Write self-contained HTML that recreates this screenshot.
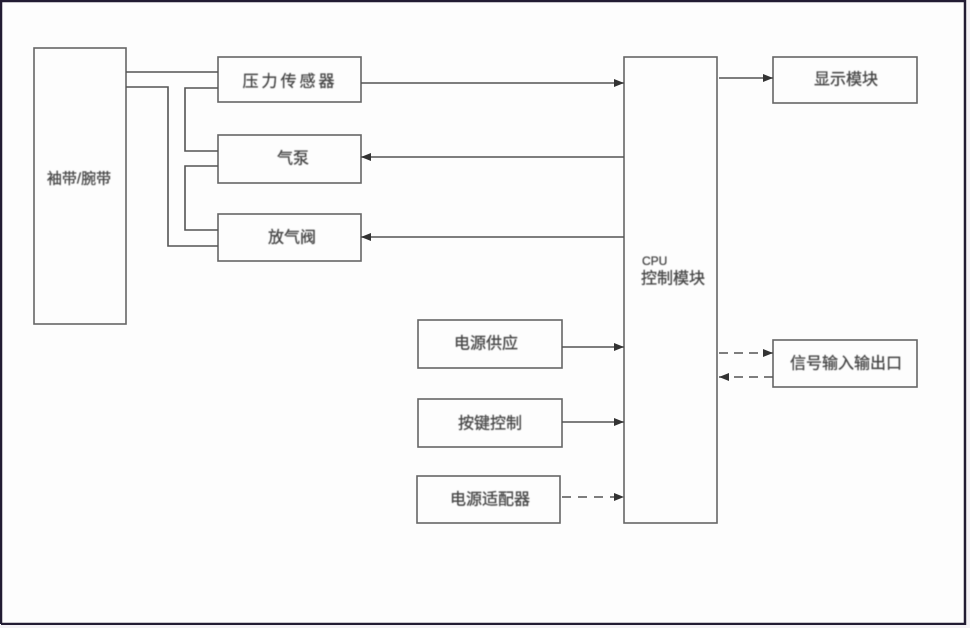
<!DOCTYPE html>
<html>
<head>
<meta charset="utf-8">
<style>
  html, body { margin: 0; padding: 0; background: #fff; }
  body { width: 970px; height: 628px; overflow: hidden; }
  svg { display: block; }
  text { font-family: "Liberation Sans", "Noto Sans CJK SC", "WenQuanYi Zen Hei", sans-serif; fill: #444; stroke: #555; stroke-width: 0.35; }
</style>
</head>
<body>
<svg width="970" height="628" viewBox="0 0 970 628" xmlns="http://www.w3.org/2000/svg">
  <defs>
    <marker id="ah" markerUnits="userSpaceOnUse" markerWidth="10" markerHeight="8" refX="10" refY="4" orient="auto">
      <path d="M0,0 L10,4 L0,8 z" fill="#333"/>
    </marker>
    <filter id="soft" x="-5%" y="-5%" width="110%" height="110%">
      <feGaussianBlur stdDeviation="0.45"/>
    </filter>
  </defs>

  <!-- background -->
  <rect x="0" y="0" width="970" height="628" fill="#fdfdfd"/>
  <!-- outer frame -->
  <path d="M1,624 V1 H965 V624 H1" fill="none" stroke="#221c33" stroke-width="2.5"/>
  <rect x="967" y="0" width="3" height="628" fill="#f4f2f6"/>
  <rect x="0" y="625" width="970" height="3" fill="#f4f2f6"/>

  <g fill="none" stroke="#666" stroke-width="1.6">
    <!-- boxes -->
    <rect x="34" y="48" width="92" height="276"/>
    <rect x="218" y="57" width="143" height="45"/>
    <rect x="218" y="135" width="143" height="48"/>
    <rect x="218" y="214" width="143" height="47"/>
    <rect x="624" y="57" width="93" height="466"/>
    <rect x="773" y="57" width="144" height="46"/>
    <rect x="773" y="340" width="144" height="47"/>
    <rect x="418" y="320" width="144" height="48"/>
    <rect x="418" y="399" width="144" height="48"/>
    <rect x="417" y="476" width="143" height="47"/>
  </g>

  <g fill="none" stroke="#555" stroke-width="1.6">
    <!-- cuff connectors -->
    <path d="M126,72 H218"/>
    <path d="M126,87 H168 V246 H218"/>
    <path d="M218,88 H185 V151 H218"/>
    <path d="M218,166 H185 V230 H218"/>

    <!-- solid arrows -->
    <path d="M361,83 H624" marker-end="url(#ah)"/>
    <path d="M624,157 H361" marker-end="url(#ah)"/>
    <path d="M624,237 H361" marker-end="url(#ah)"/>
    <path d="M719,78 H773" marker-end="url(#ah)"/>
    <path d="M562,347 H624" marker-end="url(#ah)"/>
    <path d="M562,422 H624" marker-end="url(#ah)"/>

    <!-- dashed arrows -->
    <path d="M719,353 H773" stroke-dasharray="9,6" marker-end="url(#ah)"/>
    <path d="M773,377 H719" stroke-dasharray="9,6" marker-end="url(#ah)"/>
    <path d="M562,497 H624" stroke-dasharray="9,7" marker-end="url(#ah)"/>
  </g>

  <g filter="url(#soft)" font-size="16" text-anchor="middle" dominant-baseline="central">
    <text x="79" y="179" font-size="15">袖带/腕带</text>
    <text x="290" y="82" letter-spacing="3">压力传感器</text>
    <text x="293" y="159">气泵</text>
    <text x="292" y="238">放气阀</text>
    <text x="846" y="80">显示模块</text>
    <text x="846" y="364">信号输入输出口</text>
    <text x="486" y="344">电源供应</text>
    <text x="490" y="424">按键控制</text>
    <text x="490" y="500">电源适配器</text>
    <text x="642" y="261" text-anchor="start" font-size="12">CPU</text>
    <text x="641" y="279" text-anchor="start" font-size="16">控制模块</text>
  </g>
</svg>
</body>
</html>
